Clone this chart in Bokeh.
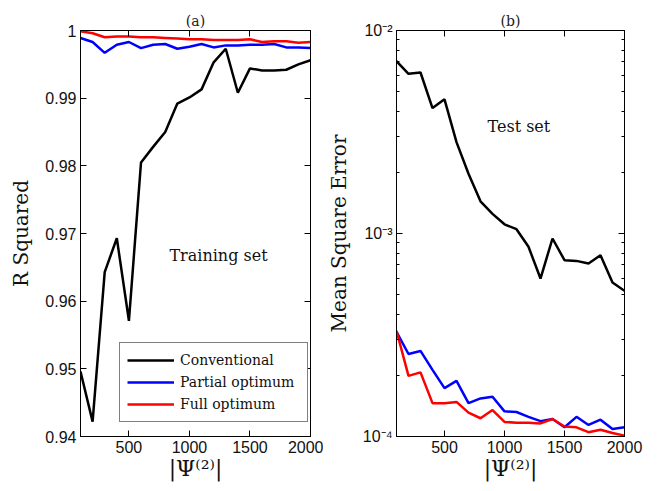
from bokeh.plotting import figure
from bokeh.layouts import row
from bokeh.models import (LinearAxis, LogAxis, FixedTicker, CustomJSTickFormatter,
                          Label, Range1d)
from bokeh.embed import file_html
from bokeh.resources import INLINE

# ---------------- data ----------------
psi = [100, 200, 300, 400, 500, 600, 700, 800, 900, 1000,
       1100, 1200, 1300, 1400, 1500, 1600, 1700, 1800, 1900, 2000]

r2_conv = [0.9496, 0.9422, 0.9643, 0.9693, 0.9571, 0.9805, 0.9828, 0.9850, 0.9892, 0.9901,
           0.9913, 0.9953, 0.9973, 0.9908, 0.9944, 0.9941, 0.9941, 0.9942, 0.9950, 0.9956]
r2_partial = [0.9989, 0.9983, 0.9967, 0.9979, 0.9983, 0.9974, 0.9979, 0.9980, 0.9973, 0.9976,
              0.9980, 0.9975, 0.9978, 0.9978, 0.9979, 0.9979, 0.9980, 0.9975, 0.9975, 0.9974]
r2_full = [0.9999, 0.9996, 0.9990, 0.9991, 0.9991, 0.9990, 0.9990, 0.9989, 0.9988, 0.9987,
           0.9987, 0.9986, 0.9986, 0.9986, 0.9987, 0.9983, 0.9984, 0.9984, 0.9982, 0.9983]

mse_conv = [7.06e-3, 6.12e-3, 6.21e-3, 4.15e-3, 4.58e-3, 2.82e-3, 1.97e-3, 1.44e-3, 1.25e-3, 1.11e-3,
            1.05e-3, 8.6e-4, 6.0e-4, 9.45e-4, 7.39e-4, 7.33e-4, 7.12e-4, 7.82e-4, 5.74e-4, 5.22e-4]
mse_partial = [3.28e-4, 2.55e-4, 2.64e-4, 2.13e-4, 1.73e-4, 1.88e-4, 1.46e-4, 1.54e-4, 1.57e-4, 1.33e-4,
               1.32e-4, 1.25e-4, 1.19e-4, 1.22e-4, 1.11e-4, 1.25e-4, 1.14e-4, 1.21e-4, 1.09e-4, 1.11e-4]
mse_full = [3.32e-4, 1.99e-4, 2.07e-4, 1.46e-4, 1.46e-4, 1.48e-4, 1.31e-4, 1.23e-4, 1.35e-4, 1.18e-4,
            1.17e-4, 1.17e-4, 1.16e-4, 1.22e-4, 1.12e-4, 1.11e-4, 1.05e-4, 1.08e-4, 1.04e-4, 1.01e-4]

series_names = ["Conventional", "Partial optimum", "Full optimum"]
series_colors = ["black", "#0000ff", "#ff0000"]

x_ticks = [500, 1000, 1500, 2000]
r2_ticks = [0.94, 0.95, 0.96, 0.97, 0.98, 0.99, 1.0]
mse_ticks = [1e-4, 1e-3, 1e-2]
mse_minor = [k * 10.0 ** n for n in (-4, -3) for k in range(2, 10)]

SERIF = "DejaVu Serif"
SANS = "Liberation Sans"
XLABEL = "|\u03a8\u207d\u00b2\u207e|"

r2_fmt = CustomJSTickFormatter(code="return tick.toFixed(2).replace(/\\.?0+$/, '');")
log_fmt = CustomJSTickFormatter(code="""
const e = Math.round(Math.log10(tick));
const sup = {'-':'\u207b','0':'\u2070','1':'\u00b9','2':'\u00b2','3':'\u00b3','4':'\u2074',
             '5':'\u2075','6':'\u2076','7':'\u2077','8':'\u2078','9':'\u2079'};
return '10' + String(e).split('').map(c => sup[c]).join('');
""")


def style_axis(ax, labels=True):
    ax.axis_line_color = "black"
    ax.axis_line_width = 1
    ax.major_tick_in = 6
    ax.major_tick_out = 0
    ax.minor_tick_in = 3
    ax.minor_tick_out = 0
    ax.major_tick_line_color = "black"
    ax.minor_tick_line_color = "black"
    if labels:
        ax.major_label_text_font = SANS
        ax.major_label_text_font_size = "16px"
        ax.major_label_text_color = "#111111"
        ax.major_label_standoff = 4
        ax.axis_label_text_font = SERIF
        ax.axis_label_text_font_size = "20px"
        ax.axis_label_text_font_style = "normal"
        ax.axis_label_text_color = "#111111"
    else:
        ax.formatter = CustomJSTickFormatter(code="return '';")
        ax.major_label_text_font_size = "6px"
        ax.major_label_standoff = 0


def style_fig(p, title):
    p.title.text = title
    p.title.align = "center"
    p.title.text_font = SERIF
    p.title.text_font_size = "14px"
    p.title.text_font_style = "normal"
    p.title.text_color = "#222222"
    p.title.standoff = 3
    p.outline_line_color = "black"
    p.outline_line_width = 1
    p.xgrid.visible = False
    p.ygrid.visible = False
    p.background_fill_color = "white"
    p.border_fill_color = "white"


# ---------------- panel (a) ----------------
p1 = figure(width=323, height=483, output_backend="svg", toolbar_location=None,
            x_range=Range1d(100, 2000), y_range=Range1d(0.94, 1.0),
            min_border_left=80, min_border_right=13, min_border_top=30, min_border_bottom=46)
style_fig(p1, "(a)")
xt = FixedTicker(ticks=x_ticks, minor_ticks=[])
yt1 = FixedTicker(ticks=r2_ticks, minor_ticks=[])
p1.xaxis.ticker = xt
p1.yaxis.ticker = yt1
p1.yaxis.formatter = r2_fmt
p1.xaxis.axis_label = XLABEL
p1.yaxis.axis_label = "R Squared"
p1.xaxis.axis_label_standoff = 0
p1.yaxis.axis_label_standoff = 9
style_axis(p1.xaxis[0])
style_axis(p1.yaxis[0])
p1.xaxis[0].axis_label_text_font_size = "22px"
top1 = LinearAxis(ticker=xt)
right1 = LinearAxis(ticker=yt1)
style_axis(top1, labels=False)
style_axis(right1, labels=False)
p1.add_layout(top1, "above")
p1.add_layout(right1, "right")

for vals, name, col in zip([r2_conv, r2_partial, r2_full], series_names, series_colors):
    p1.line(psi, vals, line_color=col, line_width=2.5, legend_label=name)

p1.add_layout(Label(x=1240, y=0.9667, text="Training set", text_align="center",
                    text_baseline="middle", text_font=SERIF, text_font_size="16px",
                    text_color="#111111"))

lg = p1.legend[0]
lg.location = (39, 14)
lg.border_line_color = "black"
lg.border_line_width = 1
lg.background_fill_color = "white"
lg.background_fill_alpha = 1
lg.label_text_font = SERIF
lg.label_text_font_size = "14px"
lg.label_text_color = "#111111"
lg.glyph_width = 47
lg.glyph_height = 20
lg.label_height = 20
lg.label_width = 120
lg.label_standoff = 6
lg.padding = 7
lg.spacing = 2
lg.margin = 0

# ---------------- panel (b) ----------------
p2 = figure(width=330, height=483, output_backend="svg", toolbar_location=None,
            x_range=Range1d(100, 2000), y_range=Range1d(1e-4, 1e-2), y_axis_type="log",
            min_border_left=66, min_border_right=29, min_border_top=30, min_border_bottom=46)
style_fig(p2, "(b)")
xt2 = FixedTicker(ticks=x_ticks, minor_ticks=[])
yt2 = FixedTicker(ticks=mse_ticks, minor_ticks=mse_minor)
p2.xaxis.ticker = xt2
p2.yaxis.ticker = yt2
p2.yaxis.formatter = log_fmt
p2.xaxis.axis_label = XLABEL
p2.yaxis.axis_label = "Mean Square Error"
p2.xaxis.axis_label_standoff = 0
p2.yaxis.axis_label_standoff = 9
style_axis(p2.xaxis[0])
style_axis(p2.yaxis[0])
p2.xaxis[0].axis_label_text_font_size = "22px"
top2 = LinearAxis(ticker=xt2)
right2 = LogAxis(ticker=yt2)
style_axis(top2, labels=False)
style_axis(right2, labels=False)
p2.add_layout(top2, "above")
p2.add_layout(right2, "right")

for vals, name, col in zip([mse_conv, mse_partial, mse_full], series_names, series_colors):
    p2.line(psi, vals, line_color=col, line_width=2.5)

p2.add_layout(Label(x=1120, y=3.38e-3, text="Test set", text_align="center",
                    text_baseline="middle", text_font=SERIF, text_font_size="16px",
                    text_color="#111111"))

layout = row(p1, p2)
open("out.html", "w").write(file_html(layout, INLINE))
